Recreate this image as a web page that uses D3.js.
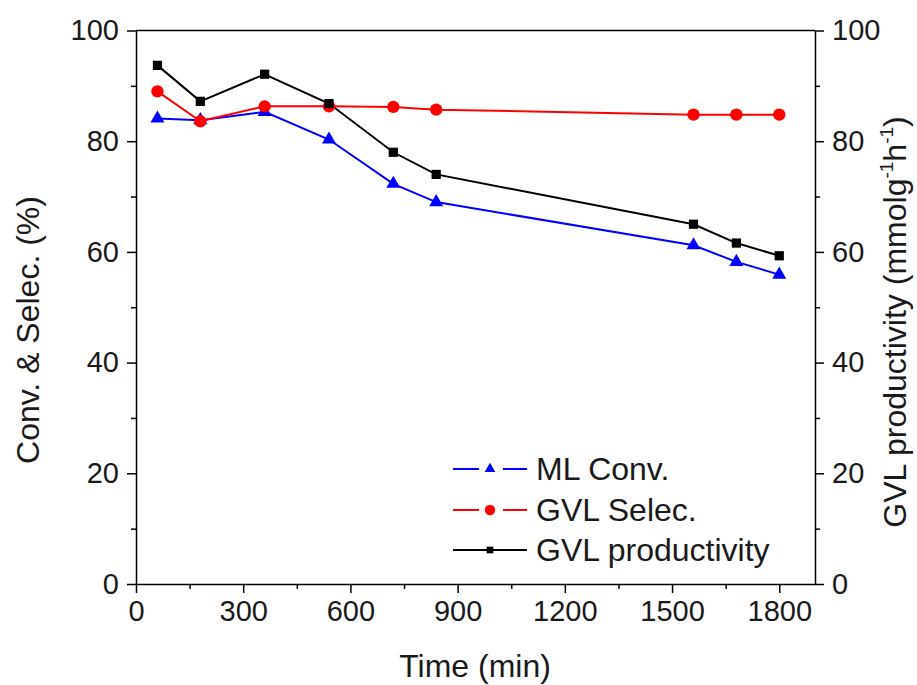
<!DOCTYPE html>
<html><head><meta charset="utf-8">
<script src="https://cdn.jsdelivr.net/npm/d3@7"></script>
<style>body{margin:0;background:#fff}svg{font-family:"Liberation Sans",Arial,sans-serif}</style>
</head><body><svg id="c" width="917" height="685"></svg>
<script>
const times = [60, 180, 360, 540, 720, 840, 1560, 1680, 1800];
const mlConv = [84.1, 83.8, 85.3, 80.3, 72.3, 69.0, 61.2, 58.2, 55.9];
const gvlSelec = [89.0, 83.6, 86.3, 86.3, 86.2, 85.7, 84.8, 84.8, 84.8];
const gvlProd = [93.7, 87.2, 92.1, 86.8, 78.0, 74.0, 65.0, 61.6, 59.3];
const xTicks = [0, 300, 600, 900, 1200, 1500, 1800];
const yTicks = [0, 20, 40, 60, 80, 100];
const legendLabels = ["ML Conv.", "GVL Selec.", "GVL productivity"];

const svg = d3.select("#c");
const L = 136, R = 815, T = 30.5, B = 584;
const x = d3.scaleLinear().domain([0, 1900]).range([L, R]);
const yL = d3.scaleLinear().domain([0, 100]).range([B, T]);
const yR = d3.scaleLinear().domain([0, 100]).range([B, T]);

svg.append("line").attr("x1", L).attr("x2", R).attr("y1", T).attr("y2", T).attr("stroke", "#000").attr("stroke-width", 1.5);

const minorX = d3.range(150, 1900, 300);
const minorY = d3.range(10, 100, 20);

function styleAxis(g) {
  g.select(".domain").attr("stroke-width", 1.5);
  g.selectAll(".tick line").attr("stroke-width", 1.5);
  g.selectAll("text").attr("font-size", 29).attr("fill", "#1a1a1a");
}

const gx = svg.append("g").attr("transform", `translate(0,${B})`)
  .call(d3.axisBottom(x).tickValues(xTicks).tickFormat(d3.format("d")).tickSize(9).tickSizeOuter(0).tickPadding(7));
styleAxis(gx);
svg.append("g").attr("transform", `translate(0,${B})`)
  .call(d3.axisBottom(x).tickValues(minorX).tickSize(5).tickFormat("")).call(g => { g.select(".domain").remove(); g.selectAll("line").attr("stroke-width", 1.5); });

const gyl = svg.append("g").attr("transform", `translate(${L},0)`)
  .call(d3.axisLeft(yL).tickValues(yTicks).tickSize(9).tickSizeOuter(0).tickPadding(8));
styleAxis(gyl);
svg.append("g").attr("transform", `translate(${L},0)`)
  .call(d3.axisLeft(yL).tickValues(minorY).tickSize(5).tickFormat("")).call(g => { g.select(".domain").remove(); g.selectAll("line").attr("stroke-width", 1.5); });

const gyr = svg.append("g").attr("transform", `translate(${R},0)`)
  .call(d3.axisRight(yR).tickValues(yTicks).tickSize(9).tickSizeOuter(0).tickPadding(8));
styleAxis(gyr);
svg.append("g").attr("transform", `translate(${R},0)`)
  .call(d3.axisRight(yR).tickValues(minorY).tickSize(5).tickFormat("")).call(g => { g.select(".domain").remove(); g.selectAll("line").attr("stroke-width", 1.5); });

svg.append("text").attr("x", 475).attr("y", 677).attr("text-anchor", "middle")
  .attr("font-size", 32).attr("fill", "#1a1a1a").text("Time (min)");
svg.append("text").attr("transform", `translate(39,330) rotate(-90)`).attr("text-anchor", "middle")
  .attr("font-size", 32).attr("fill", "#1a1a1a").text("Conv. & Selec. (%)");
const rt = svg.append("text").attr("transform", `translate(906,322) rotate(-90)`).attr("text-anchor", "middle")
  .attr("font-size", 32).attr("fill", "#1a1a1a");
rt.append("tspan").text("GVL productivity (mmolg");
rt.append("tspan").attr("font-size", 19).attr("dy", -13).text("-1");
rt.append("tspan").attr("dy", 13).text("h");
rt.append("tspan").attr("font-size", 19).attr("dy", -13).text("-1");
rt.append("tspan").attr("dy", 13).text(")");

const series = [
  {vals: mlConv, color: "#0000ff", sym: d3.symbolTriangle, size: 85, lsize: 50, y: yL},
  {vals: gvlSelec, color: "#ff0000", sym: d3.symbolCircle, size: 120, lsize: 85, y: yL},
  {vals: gvlProd, color: "#000000", sym: d3.symbolSquare, size: 85, lsize: 45, y: yR}
];

series.forEach(s => {
  const line = d3.line().x((d, i) => x(times[i])).y(d => s.y(d));
  svg.append("path").datum(s.vals).attr("d", line).attr("fill", "none")
    .attr("stroke", s.color).attr("stroke-width", 2);
});
series.forEach(s => {
  svg.append("g").selectAll("path").data(s.vals).join("path")
    .attr("transform", (d, i) => `translate(${x(times[i])},${s.y(d)})`)
    .attr("d", d3.symbol().type(s.sym).size(s.size)).attr("fill", s.color);
});

const ly = [469, 510, 550];
series.forEach((s, i) => {
  const g = svg.append("g").attr("transform", `translate(0,${ly[i]})`);
  if (i < 2) {
    g.append("line").attr("x1", 453).attr("x2", 479).attr("y1", 0).attr("y2", 0).attr("stroke", s.color).attr("stroke-width", 2);
    g.append("line").attr("x1", 503).attr("x2", 527).attr("y1", 0).attr("y2", 0).attr("stroke", s.color).attr("stroke-width", 2);
  } else {
    g.append("line").attr("x1", 453).attr("x2", 527).attr("y1", 0).attr("y2", 0).attr("stroke", s.color).attr("stroke-width", 2);
  }
  g.append("path").attr("transform", "translate(490,0)").attr("d", d3.symbol().type(s.sym).size(s.lsize)).attr("fill", s.color);
  g.append("text").attr("x", 536).attr("y", 11).attr("font-size", 32).attr("fill", "#1a1a1a").text(legendLabels[i]);
});
</script></body></html>
